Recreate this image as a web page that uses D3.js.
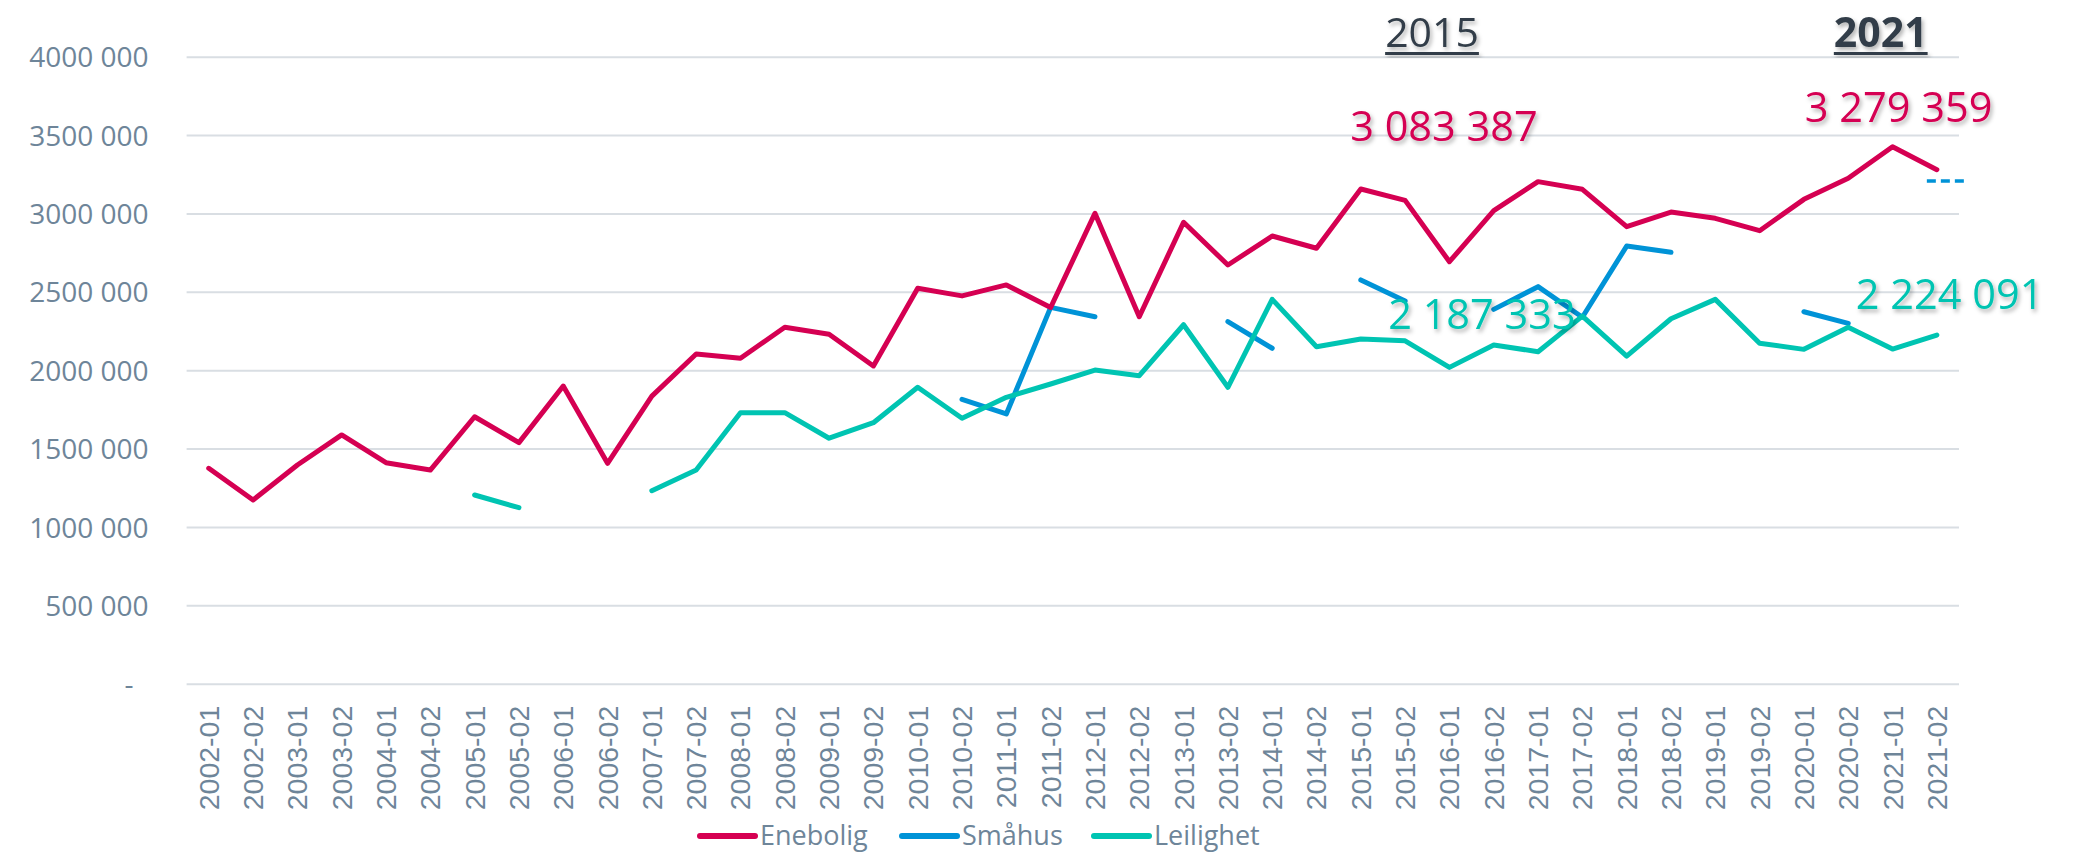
<!DOCTYPE html>
<html>
<head>
<meta charset="utf-8">
<script src="https://cdn.jsdelivr.net/npm/d3@7"></script>
<style>
  body { margin: 0; background: #fff; }
  svg { display: block; }
</style>
</head>
<body>
<div id="chart"></div>
<script>
// periods on the x axis
var categories = ["2002-01","2002-02","2003-01","2003-02","2004-01","2004-02","2005-01","2005-02",
  "2006-01","2006-02","2007-01","2007-02","2008-01","2008-02","2009-01","2009-02","2010-01","2010-02",
  "2011-01","2011-02","2012-01","2012-02","2013-01","2013-02","2014-01","2014-02","2015-01","2015-02",
  "2016-01","2016-02","2017-01","2017-02","2018-01","2018-02","2019-01","2019-02","2020-01","2020-02",
  "2021-01","2021-02"];

var enebolig = [1374000, 1172000, 1395000, 1587000, 1410000, 1363000, 1703000, 1538000, 1899000, 1406000,
  1835000, 2103000, 2076000, 2274000, 2229000, 2027000, 2523000, 2474000, 2544000, 2400000,
  3001000, 2341000, 2944000, 2671000, 2856000, 2778000, 3156000, 3083387, 2692000, 3018000,
  3203000, 3154000, 2916000, 3009000, 2969000, 2890000, 3090000, 3224000, 3426000, 3279359];

var smahus = [null, null, null, null, null, null, null, null, null, null,
  null, null, null, null, null, null, null, 1814000, 1721000, 2401000,
  2341000, null, null, 2310000, 2140000, null, 2576000, 2442000, null, 2388000,
  2533000, 2338000, 2792000, 2752000, null, null, 2373000, 2299000, null, null];

var leilighet = [null, null, null, null, null, null, 1204000, 1123000, null, null,
  1231000, 1363000, 1729000, 1729000, 1566000, 1665000, 1891000, 1693000, 1827000, 1912000,
  2001000, 1965000, 2290000, 1891000, 2452000, 2150000, 2199000, 2187333, 2018000, 2161000,
  2118000, 2345000, 2090000, 2328000, 2452000, 2172000, 2133000, 2274000, 2135000, 2224091];

// the small dashed småhus mark at the end
var smahusMark = { period: "2021-02", value: 3207000 };

var yTicks = [0, 500000, 1000000, 1500000, 2000000, 2500000, 3000000, 3500000, 4000000];

var seriesNames = ["Enebolig", "Småhus", "Leilighet"];
var seriesColors = ["#D50052", "#0093D7", "#00C4B2"];

// value labels and year headings
var valueLabels = [
  { text: "3 083 387", period: "2015-02", value: 3083387, series: 0 },
  { text: "3 279 359", period: "2021-02", value: 3279359, series: 0 },
  { text: "2 187 333", period: "2015-02", value: 2187333, series: 2 },
  { text: "2 224 091", period: "2021-02", value: 2224091, series: 2 }
];
var yearLabels = [
  { text: "2015", period: "2015-02", bold: false },
  { text: "2021", period: "2021-02", bold: true }
];

var width = 2083, height = 854;
var plotLeft = 186.6, plotRight = 1959, plotTop = 56.7, plotBottom = 683.7;
var grey = "#6E8599";

function fmtTick(d) {
  if (d === 0) return "-";
  var thousands = Math.floor(d / 1000);
  return thousands + " 000";
}

function init() {
  var svg = d3.select("#chart").append("svg")
              .attr("width", width)
              .attr("height", height);

  var defs = svg.append("defs");
  var f = defs.append("filter").attr("id", "shadow")
              .attr("x", "-10%").attr("y", "-50%").attr("width", "130%").attr("height", "250%");
  f.append("feDropShadow").attr("dx", 2).attr("dy", 3).attr("stdDeviation", 2)
   .attr("flood-color", "#000").attr("flood-opacity", 0.3);

  var x = d3.scaleBand().domain(categories).range([plotLeft, plotRight]);
  var y = d3.scaleLinear().domain([0, 4000000]).range([plotBottom, plotTop]);
  var cx = function(p) { return x(p) + x.bandwidth() / 2; };

  // y axis + gridlines
  var yAxis = svg.append("g")
     .attr("transform", "translate(" + plotLeft + ",0)")
     .call(d3.axisLeft(y).tickValues(yTicks).tickFormat(fmtTick)
              .tickSize(-(plotRight - plotLeft)).tickPadding(38));
  yAxis.select(".domain").remove();
  yAxis.selectAll(".tick line").attr("stroke", "#D9DEE3").attr("stroke-width", 2);
  yAxis.selectAll(".tick text")
     .attr("fill", grey)
     .attr("font-family", "'Open Sans', sans-serif")
     .attr("font-size", 28)
     .attr("dy", "0.36em")
     .attr("dx", function(d) { return d === 0 ? -15 : 0; });

  // x axis labels, rotated
  var xAxis = svg.append("g")
     .attr("transform", "translate(0," + plotBottom + ")")
     .call(d3.axisBottom(x).tickSize(0));
  xAxis.select(".domain").remove();
  xAxis.selectAll(".tick text")
     .attr("fill", grey)
     .attr("font-family", "'Liberation Sans', Arial, sans-serif")
     .attr("font-size", 28.5)
     .attr("transform", "rotate(-90)")
     .attr("text-anchor", "end")
     .attr("x", -22)
     .attr("y", 0)
     .attr("dy", "0.35em");

  // lines
  var series = [enebolig, smahus, leilighet];
  var line = d3.line()
     .defined(function(d) { return d != null; })
     .x(function(d, i) { return cx(categories[i]); })
     .y(function(d) { return y(d); });

  // draw småhus first, then leilighet, enebolig on top like the picture
  [1, 2, 0].forEach(function(s) {
    svg.append("path")
       .datum(series[s])
       .attr("d", line)
       .attr("fill", "none")
       .attr("stroke", seriesColors[s])
       .attr("stroke-width", 5)
       .attr("stroke-linejoin", "round")
       .attr("stroke-linecap", "round");
  });

  // dashed mark
  svg.append("line")
     .attr("x1", cx(smahusMark.period) - 10)
     .attr("x2", cx(smahusMark.period) + 31)
     .attr("y1", y(smahusMark.value))
     .attr("y2", y(smahusMark.value))
     .attr("stroke", seriesColors[1])
     .attr("stroke-width", 3.5)
     .attr("stroke-dasharray", "9,5");

  // value labels
  valueLabels.forEach(function(l) {
    var dx, dy;
    if (l.series === 0) {
      dx = l.period === "2015-02" ? -55 : -132;
      dy = l.period === "2015-02" ? -59 : -48;
    } else {
      dx = l.period === "2015-02" ? -17 : -81;
      dy = l.period === "2015-02" ? -12 : -26;
    }
    svg.append("text")
       .attr("x", cx(l.period) + dx)
       .attr("y", y(l.value) + dy)
       .attr("fill", seriesColors[l.series])
       .attr("font-family", "'Open Sans', sans-serif")
       .attr("font-size", 41.5)
       .attr("filter", "url(#shadow)")
       .text(l.text);
  });

  // year headings, underlined
  yearLabels.forEach(function(l, i) {
    var tx = cx(l.period) + (i === 0 ? -20 : -103);
    var t = svg.append("text")
       .attr("x", tx)
       .attr("y", 47)
       .attr("fill", "#333E48")
       .attr("font-family", "'Open Sans', sans-serif")
       .attr("font-size", 41)
       .attr("font-weight", l.bold ? "bold" : "normal")
       .attr("filter", "url(#shadow)")
       .text(l.text);
    var w = t.node().getComputedTextLength();
    svg.append("rect")
       .attr("x", tx).attr("y", 52)
       .attr("width", w).attr("height", 3)
       .attr("fill", "#333E48")
       .attr("filter", "url(#shadow)");
  });

  // legend
  var legendX = [700, 902, 1094];
  seriesNames.forEach(function(name, i) {
    svg.append("line")
       .attr("x1", legendX[i]).attr("x2", legendX[i] + 55)
       .attr("y1", 836).attr("y2", 836)
       .attr("stroke", seriesColors[i])
       .attr("stroke-width", 6)
       .attr("stroke-linecap", "round");
    svg.append("text")
       .attr("x", legendX[i] + 60)
       .attr("y", 845)
       .attr("fill", grey)
       .attr("font-family", "'Open Sans', sans-serif")
       .attr("font-size", 27)
       .text(name);
  });
}
window.onload = init;
</script>
</body>
</html>
